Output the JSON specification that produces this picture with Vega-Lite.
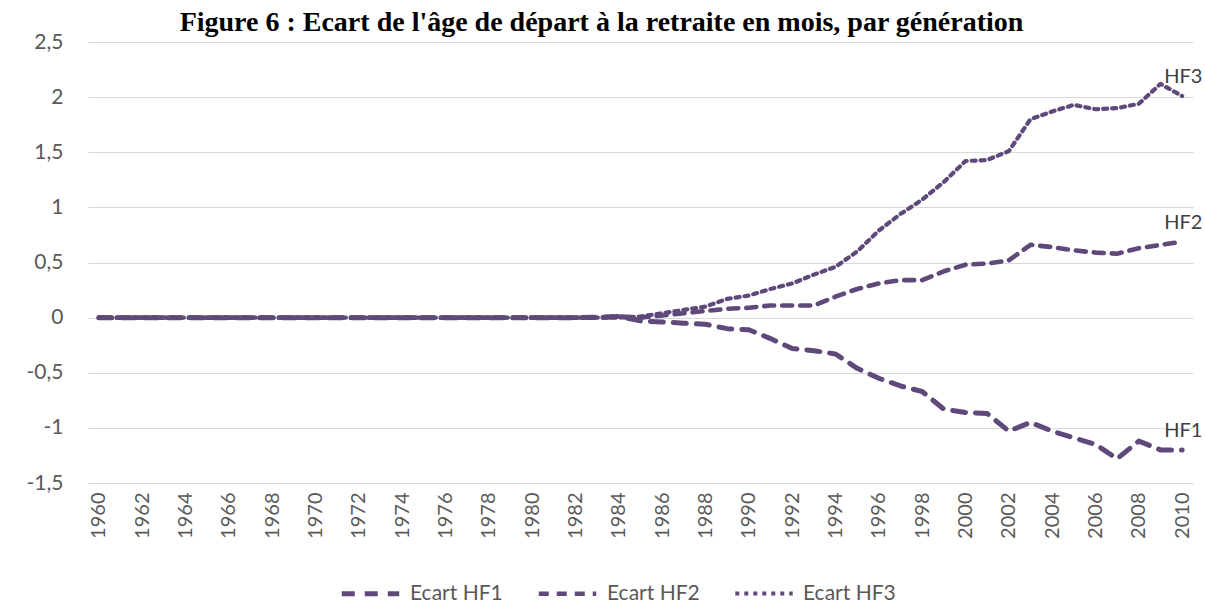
{
  "$schema": "https://vega.github.io/schema/vega-lite/v6.json",
  "width": 1105,
  "height": 441,
  "autosize": {"type": "none"},
  "padding": {"left": 88, "top": 42, "right": 12, "bottom": 130},
  "background": "white",
  "title": {
    "text": "Figure 6 : Ecart de l'âge de départ à la retraite en mois, par génération",
    "font": "Liberation Serif",
    "fontSize": 28,
    "fontWeight": "bold",
    "color": "black",
    "anchor": "middle",
    "baseline": "alphabetic",
    "offset": 24,
    "dy": 52,
    "dx": -39
  },
  "data": {
    "values": [
      {"annee": 1960, "HF1": 0, "HF2": 0, "HF3": 0},
      {"annee": 1961, "HF1": 0, "HF2": 0, "HF3": 0},
      {"annee": 1962, "HF1": 0, "HF2": 0, "HF3": 0},
      {"annee": 1963, "HF1": 0, "HF2": 0, "HF3": 0},
      {"annee": 1964, "HF1": 0, "HF2": 0, "HF3": 0},
      {"annee": 1965, "HF1": 0, "HF2": 0, "HF3": 0},
      {"annee": 1966, "HF1": 0, "HF2": 0, "HF3": 0},
      {"annee": 1967, "HF1": 0, "HF2": 0, "HF3": 0},
      {"annee": 1968, "HF1": 0, "HF2": 0, "HF3": 0},
      {"annee": 1969, "HF1": 0, "HF2": 0, "HF3": 0},
      {"annee": 1970, "HF1": 0, "HF2": 0, "HF3": 0},
      {"annee": 1971, "HF1": 0, "HF2": 0, "HF3": 0},
      {"annee": 1972, "HF1": 0, "HF2": 0, "HF3": 0},
      {"annee": 1973, "HF1": 0, "HF2": 0, "HF3": 0},
      {"annee": 1974, "HF1": 0, "HF2": 0, "HF3": 0},
      {"annee": 1975, "HF1": 0, "HF2": 0, "HF3": 0},
      {"annee": 1976, "HF1": 0, "HF2": 0, "HF3": 0},
      {"annee": 1977, "HF1": 0, "HF2": 0, "HF3": 0},
      {"annee": 1978, "HF1": 0, "HF2": 0, "HF3": 0},
      {"annee": 1979, "HF1": 0, "HF2": 0, "HF3": 0},
      {"annee": 1980, "HF1": 0, "HF2": 0, "HF3": 0},
      {"annee": 1981, "HF1": 0, "HF2": 0, "HF3": 0},
      {"annee": 1982, "HF1": 0, "HF2": 0, "HF3": 0},
      {"annee": 1983, "HF1": 0.005, "HF2": 0, "HF3": 0},
      {"annee": 1984, "HF1": 0.01, "HF2": 0.01, "HF3": 0},
      {"annee": 1985, "HF1": -0.03, "HF2": 0.0, "HF3": 0.01},
      {"annee": 1986, "HF1": -0.04, "HF2": 0.02, "HF3": 0.04},
      {"annee": 1987, "HF1": -0.05, "HF2": 0.04, "HF3": 0.07},
      {"annee": 1988, "HF1": -0.06, "HF2": 0.06, "HF3": 0.1},
      {"annee": 1989, "HF1": -0.1, "HF2": 0.08, "HF3": 0.17},
      {"annee": 1990, "HF1": -0.11, "HF2": 0.09, "HF3": 0.2},
      {"annee": 1991, "HF1": -0.19, "HF2": 0.11, "HF3": 0.26},
      {"annee": 1992, "HF1": -0.28, "HF2": 0.11, "HF3": 0.31},
      {"annee": 1993, "HF1": -0.3, "HF2": 0.11, "HF3": 0.39},
      {"annee": 1994, "HF1": -0.33, "HF2": 0.19, "HF3": 0.46},
      {"annee": 1995, "HF1": -0.46, "HF2": 0.26, "HF3": 0.6},
      {"annee": 1996, "HF1": -0.55, "HF2": 0.31, "HF3": 0.79},
      {"annee": 1997, "HF1": -0.62, "HF2": 0.34, "HF3": 0.94},
      {"annee": 1998, "HF1": -0.67, "HF2": 0.34, "HF3": 1.07},
      {"annee": 1999, "HF1": -0.83, "HF2": 0.42, "HF3": 1.23},
      {"annee": 2000, "HF1": -0.86, "HF2": 0.48, "HF3": 1.42},
      {"annee": 2001, "HF1": -0.87, "HF2": 0.49, "HF3": 1.43},
      {"annee": 2002, "HF1": -1.03, "HF2": 0.52, "HF3": 1.51},
      {"annee": 2003, "HF1": -0.95, "HF2": 0.66, "HF3": 1.8},
      {"annee": 2004, "HF1": -1.03, "HF2": 0.64, "HF3": 1.87},
      {"annee": 2005, "HF1": -1.09, "HF2": 0.61, "HF3": 1.93},
      {"annee": 2006, "HF1": -1.15, "HF2": 0.59, "HF3": 1.89},
      {"annee": 2007, "HF1": -1.28, "HF2": 0.58, "HF3": 1.9},
      {"annee": 2008, "HF1": -1.12, "HF2": 0.63, "HF3": 1.94},
      {"annee": 2009, "HF1": -1.2, "HF2": 0.66, "HF3": 2.12},
      {"annee": 2010, "HF1": -1.2, "HF2": 0.69, "HF3": 2.01}
    ]
  },
  "transform": [
    {"fold": ["HF1", "HF2", "HF3"], "as": ["serie", "valeur"]}
  ],
  "encoding": {
    "x": {
      "field": "annee",
      "type": "ordinal",
      "scale": {"type": "point", "padding": 0.5},
      "axis": {
        "title": null,
        "values": [1960,1962,1964,1966,1968,1970,1972,1974,1976,1978,1980,1982,1984,1986,1988,1990,1992,1994,1996,1998,2000,2002,2004,2006,2008,2010],
        "labelAngle": -90,
        "labelFont": "Lato",
        "labelFontSize": 20,
        "labelColor": "#595959",
        "labelPadding": 9,
        "ticks": false,
        "domain": false,
        "grid": false
      }
    },
    "y": {
      "field": "valeur",
      "type": "quantitative",
      "scale": {"domain": [-1.5, 2.5], "nice": false, "zero": false},
      "axis": {
        "title": null,
        "values": [-1.5, -1, -0.5, 0, 0.5, 1, 1.5, 2, 2.5],
        "labelExpr": "replace(toString(datum.value), '.', ',')",
        "labelFont": "Lato",
        "labelFontSize": 21,
        "labelColor": "#595959",
        "labelPadding": 25,
        "ticks": false,
        "domain": false,
        "grid": true,
        "gridColor": "#d9d9d9",
        "gridWidth": 1
      }
    }
  },
  "layer": [
    {
      "mark": {"type": "line", "color": "#5F497A", "strokeCap": "round", "strokeJoin": "round"},
      "encoding": {
        "detail": {"field": "serie"},
        "strokeDash": {
          "field": "serie",
          "type": "nominal",
          "scale": {"domain": ["HF1", "HF2", "HF3"], "range": [[13, 10], [10, 8], [4, 5]]},
          "legend": {
            "title": null,
            "orient": "none",
            "legendX": 251,
            "legendY": 520,
            "direction": "horizontal",
            "labelExpr": "'Ecart ' + datum.label",
            "symbolType": "stroke",
            "symbolSize": 3300,
            "symbolStrokeColor": "#5F497A",
            "labelFont": "Lato",
            "labelFontSize": 21,
            "labelColor": "#595959",
            "labelOffset": 8,
            "columnPadding": 26
          }
        },
        "strokeWidth": {
          "field": "serie",
          "type": "nominal",
          "scale": {"domain": ["HF1", "HF2", "HF3"], "range": [5, 4.2, 2.5]},
          "legend": {
            "title": null,
            "orient": "none",
            "legendX": 251,
            "legendY": 520,
            "direction": "horizontal",
            "labelExpr": "'Ecart ' + datum.label",
            "symbolType": "stroke",
            "symbolSize": 3300,
            "symbolStrokeColor": "#5F497A",
            "labelFont": "Lato",
            "labelFontSize": 21,
            "labelColor": "#595959",
            "labelOffset": 8,
            "columnPadding": 26
          }
        }
      }
    },
    {
      "transform": [{"filter": "datum.annee == 2010"}],
      "mark": {"type": "text", "align": "left", "baseline": "middle", "dx": -18, "dy": -19, "font": "Lato", "fontSize": 20, "color": "#404040"},
      "encoding": {
        "text": {"field": "serie"}
      }
    }
  ],
  "config": {
    "view": {"stroke": null}
  }
}
